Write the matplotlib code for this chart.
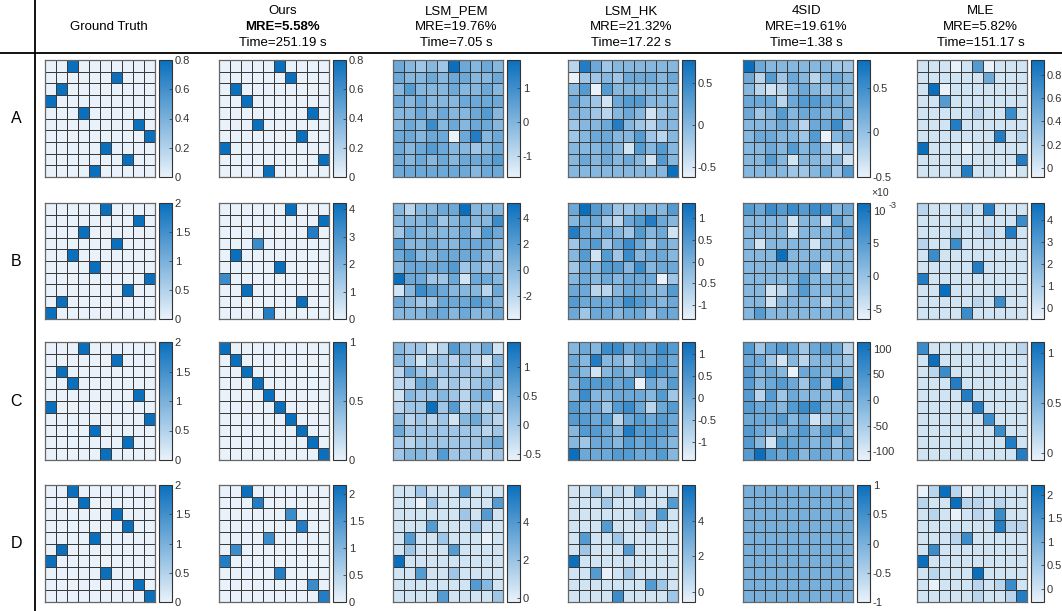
import numpy as np
import matplotlib
matplotlib.use("Agg")
import matplotlib.pyplot as plt
from matplotlib.colors import LinearSegmentedColormap
from matplotlib.lines import Line2D

plt.rcParams["font.family"] = ["Liberation Sans", "DejaVu Sans"]

# ---------------------------------------------------------------
# Data
# each panel: 10 rows of shade levels 0..9, 0 = colorbar min, 9 = colorbar max
# ---------------------------------------------------------------
METHODS = ["Ground Truth", "Ours", "LSM_PEM", "LSM_HK", "4SID", "MLE"]
MRE = ["", "MRE=5.58%", "MRE=19.76%", "MRE=21.32%", "MRE=19.61%", "MRE=5.82%"]
TIMES = ["", "Time=251.19 s", "Time=7.05 s", "Time=17.22 s", "Time=1.38 s", "Time=151.17 s"]
ROW_NAMES = ["A", "B", "C", "D"]

# ----- row A -----
A_GT = ["0090000000", "0000009000", "0900000000", "9000000000", "0009000000",
        "0000000090", "0000000009", "0000090000", "0000000900", "0000900000"]
A_OURS = ["0000090000", "0000009000", "0900000000", "0090000000", "0000000090",
          "0009000000", "0000000900", "9000000000", "0000000009", "0000900000"]
A_PEM = ["5434395454", "5445455445", "4644454454", "5454445555", "4454544564",
         "4547454554", "5545505845", "5456544345", "5454545556", "5555555455"]
A_HK = ["2853444444", "0334355545", "4606444444", "5431566444", "4432454134",
        "3445843244", "3455446324", "4445416464", "4545454164", "4444444449"]
A_4SID = ["9544444433", "5263542454", "4212454344", "5552566554", "5346455445",
          "4445425573", "4554436045", "4454645313", "4464144341", "4444334536"]
A_MLE = ["1110160111", "1111115111", "1901111111", "1161111111", "1111121171",
         "1118111111", "1111111812", "9111011111", "1111111118", "1111811101"]

# ----- row B -----
B_GT = ["0000090000", "0000000090", "0009000000", "0000009000", "0090000000",
        "0000900000", "0000000009", "0000000900", "0900000000", "9000000000"]
B_OURS = ["0000009000", "0000000009", "0000000080", "0007000000", "0900000000",
          "0000090000", "7000000000", "0090000000", "0000000900", "0000800000"]
B_PEM = ["4244559444", "4445345447", "3544445365", "6445445554", "5644555543",
         "4555563434", "9553351554", "1476544425", "5433555654", "4445545445"]
B_HK = ["5965334446", "4553256854", "8545436451", "3563575354", "4616374554",
        "3546647455", "4545455503", "5522455446", "6555576545", "5355455355"]
B_4SID = ["6576767745", "4444144164", "4444144446", "4144441444", "4449444444",
          "4444445144", "4444464444", "4412464444", "4414444244", "4644444444"]
B_MLE = ["2111218111", "1111111117", "1112112181", "2117111111", "1711111111",
         "1111181111", "8111111111", "1191111111", "1111121711", "1111711111"]

# ----- row C -----
C_GT = ["0009000000", "0000009000", "0900000000", "0090000000", "0000000090",
        "9000000000", "0000000009", "0000900000", "0000000900", "0000090000"]
C_OURS = ["9000000000", "0900000000", "0090000000", "0009000000", "0000900000",
          "0000090000", "0000009000", "0000000900", "0000000090", "0000000009"]
C_PEM = ["4331264351", "4313324214", "2532333334", "2255232343", "1433432450",
         "2339362323", "4232314532", "5333333323", "3233333345", "3443633323"]
C_HK = ["4547756576", "5484435565", "5414545765", "4666560546", "4744555463",
        "6553675256", "6656256565", "4665486665", "4355465654", "9555665564"]
C_4SID = ["6356535652", "5531424443", "6454055444", "6456536395", "6263544435",
          "6554677444", "5556451344", "6544564664", "6416554535", "6965645545"]
C_MLE = ["7111111112", "1911111111", "1271111111", "1118111111", "1111811111",
         "1111181111", "1111117111", "1111111711", "1111111181", "1111111118"]

# ----- row D -----
D_GT = ["0090000000", "0009000000", "0000009000", "0000000900", "0000900000",
        "0900000000", "9000000000", "0000090000", "0000000090", "0000000009"]
D_OURS = ["0090000000", "0008000000", "0000007000", "0000000800", "0000700000",
          "0700000000", "8000000000", "0000080000", "0000000070", "0000000008"]
D_PEM = ["1131116111", "1103111116", "1111113161", "1116111311", "1611311101",
         "1311161111", "9111111111", "1161131111", "1111111641", "1111611113"]
D_HK = ["1131216111", "1113111116", "1111113161", "1116111311", "1611311111",
        "1311161111", "9111111111", "1160131111", "1111111631", "1111711113"]
# 4SID on D returned a flat matrix: every entry equals 0 (middle of its colorbar)
D_4SID = [[0, 0, 0, 0, 0, 0, 0, 0, 0, 0] for _ in range(10)]
D_MLE = ["0292011111", "2119221211", "1210121711", "1111111822", "1112711111",
         "1711111111", "9111111111", "1211191111", "1011121271", "1111121128"]

LEVELS = [
    [A_GT, A_OURS, A_PEM, A_HK, A_4SID, A_MLE],
    [B_GT, B_OURS, B_PEM, B_HK, B_4SID, B_MLE],
    [C_GT, C_OURS, C_PEM, C_HK, C_4SID, C_MLE],
    [D_GT, D_OURS, D_PEM, D_HK, D_4SID, D_MLE],
]

# colorbar limits
CLIMS = [
    [(0, 0.8), (0, 0.8), (-1.64, 1.85), (-0.62, 0.77), (-0.5, 0.81), (-0.08, 0.93)],
    [(0, 2), (0, 4.22), (-3.76, 5.13), (-1.32, 1.35), (-6.6, 11.2), (-0.48, 4.77)],
    [(0, 2), (0, 1), (-0.6, 1.44), (-1.42, 1.28), (-117.6, 113.7), (-0.07, 1.11)],
    [(0, 2), (0, 2.17), (-0.23, 5.98), (-0.58, 6.03), (-1, 1), (-0.28, 2.21)],
]

# colorbar ticks
TICKS = [
    [[0, 0.2, 0.4, 0.6, 0.8], [0, 0.2, 0.4, 0.6, 0.8], [-1, 0, 1], [-0.5, 0, 0.5], [-0.5, 0, 0.5], [0, 0.2, 0.4, 0.6, 0.8]],
    [[0, 0.5, 1, 1.5, 2], [0, 1, 2, 3, 4], [-2, 0, 2, 4], [-1, -0.5, 0, 0.5, 1], [-5, 0, 5, 10], [0, 1, 2, 3, 4]],
    [[0, 0.5, 1, 1.5, 2], [0, 0.5, 1], [-0.5, 0, 0.5, 1], [-1, -0.5, 0, 0.5, 1], [-100, -50, 0, 50, 100], [0, 0.5, 1]],
    [[0, 0.5, 1, 1.5, 2], [0, 0.5, 1, 1.5, 2], [0, 2, 4], [0, 2, 4], [-1, -0.5, 0, 0.5, 1], [0, 0.5, 1, 1.5, 2]],
]

# ---------------------------------------------------------------
# Layout (pixels)
# ---------------------------------------------------------------
W, H = 1062, 611
MAP_LEFT = [45, 219, 393, 568, 743, 917]
CB_LEFT = [159, 333, 507, 682, 857, 1031]
MAP_W, CB_W = 110, 13
ROW_TOP = [60, 203, 342, 485]
ROW_BOT = [177, 319, 460, 602]

cmap = LinearSegmentedColormap.from_list("blues_matlab", ["#e9f2fa", "#0a6fbd"])


def rect(left, top, w, h):
    return [left / W, 1 - (top + h) / H, w / W, h / H]


def to_values(levels, lo, hi):
    first = levels[0]
    if isinstance(first, str):
        lv = np.array([[int(c) for c in r] for r in levels], dtype=float)
        return lo + lv / 9.0 * (hi - lo)
    return np.array(levels, dtype=float)


fig = plt.figure(figsize=(W / 100, H / 100), dpi=100)

for r in range(4):
    top, bot = ROW_TOP[r], ROW_BOT[r]
    h = bot - top
    for c in range(6):
        lo, hi = CLIMS[r][c]
        vals = to_values(LEVELS[r][c], lo, hi)

        ax = fig.add_axes(rect(MAP_LEFT[c], top, MAP_W, h))
        mesh = ax.pcolormesh(vals, cmap=cmap, vmin=lo, vmax=hi,
                             edgecolors="#3a3a3a", linewidth=0.45)
        ax.set_xlim(0, 10)
        ax.set_ylim(10, 0)
        ax.set_xticks([])
        ax.set_yticks([])
        for s in ax.spines.values():
            s.set_color("#666666")
            s.set_linewidth(0.9)

        cax = fig.add_axes(rect(CB_LEFT[c], top, CB_W, h))
        cb = fig.colorbar(mesh, cax=cax, ticks=TICKS[r][c])
        cb.ax.set_yticklabels([f"{t:g}" for t in TICKS[r][c]])
        cb.ax.tick_params(direction="in", length=2.5, width=0.6, labelsize=8,
                          colors="#444444", labelcolor="#333333", pad=2)
        cb.outline.set_edgecolor("#333333")
        cb.outline.set_linewidth(0.8)

    fig.text(16 / W, 1 - (top + bot) / 2 / H, ROW_NAMES[r], fontsize=11.5,
             ha="center", va="center")

# 4SID row B is in units of 1e-3
fig.text(880 / W, 1 - 193 / H, "\u00d710", fontsize=7.5, color="#333333",
         ha="center", va="center")
fig.text(893 / W, 1 - 206 / H, "-3", fontsize=6.5, color="#333333",
         ha="center", va="center")

# column headers
for c in range(6):
    xc = (MAP_LEFT[c] + CB_LEFT[c] + CB_W) / 2 / W
    if c == 0:
        fig.text(xc, 1 - 27 / H, METHODS[c], fontsize=9.5, ha="center", va="center")
        continue
    fig.text(xc, 1 - 11 / H, METHODS[c], fontsize=9.5, ha="center", va="center")
    fig.text(xc, 1 - 27 / H, MRE[c], fontsize=9.5, ha="center", va="center",
             fontweight="bold" if c == 1 else "normal")
    fig.text(xc, 1 - 43 / H, TIMES[c], fontsize=9.5, ha="center", va="center")

# table lines
fig.add_artist(Line2D([0, 1], [1 - 53 / H, 1 - 53 / H], color="black", lw=1.3,
                      transform=fig.transFigure))
fig.add_artist(Line2D([35 / W, 35 / W], [0, 1], color="black", lw=1.3,
                      transform=fig.transFigure))

fig.savefig("out.png", dpi=100)
